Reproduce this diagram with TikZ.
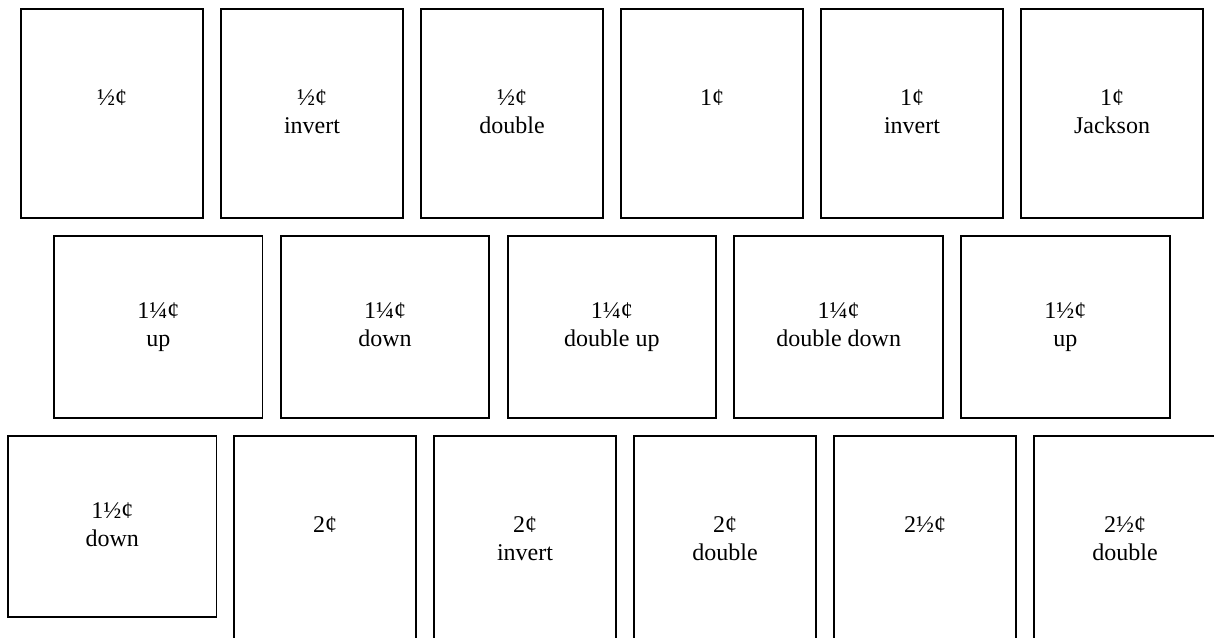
\documentclass[tikz,border=0pt]{standalone}
\usepackage{fontspec}
\setmainfont{Liberation Serif}
\usepackage{tikz}
\usetikzlibrary{positioning}
\tikzstyle{tallbox} = [rectangle, minimum width=136.5pt, minimum height=156.75pt, inner sep=0pt, outer sep=0pt, text centered, align=center, draw=black, line width=1.4pt, font=\fontsize{18pt}{21pt}\selectfont]
\tikzstyle{widebox} = [rectangle, minimum width=156.4pt, minimum height=136.5pt, inner sep=0pt, outer sep=0pt, text centered, align=center, draw=black, line width=1.4pt, font=\fontsize{18pt}{21pt}\selectfont]
\newcommand{\lbl}[2]{\strut#1\\\strut#2}

\begin{document}
\begin{tikzpicture}[x=0.75pt, y=-0.75pt, node distance=13.5pt]

\path[use as bounding box, clip] (0,0) rectangle (1214,638);

% top row
\node (half) [tallbox, anchor=north west] at (21,9) {\lbl{½¢}{}};
\node (halfinv) [tallbox, right=of half] {\lbl{½¢}{invert}};
\node (halfdbl) [tallbox, right=of halfinv] {\lbl{½¢}{double}};
\node (one) [tallbox, right=of halfdbl] {\lbl{1¢}{}};
\node (oneinv) [tallbox, right=of one] {\lbl{1¢}{invert}};
\node (jackson) [tallbox, right=of oneinv] {\lbl{1¢}{Jackson}};

% middle row
\node (qup) [widebox, anchor=north west] at (54,236) {\lbl{1¼¢}{up}};
\node (qdown) [widebox, right=13.7pt of qup] {\lbl{1¼¢}{down}};
\node (qdblup) [widebox, right=13.7pt of qdown] {\lbl{1¼¢}{double up}};
\node (qdbldown) [widebox, right=13.7pt of qdblup] {\lbl{1¼¢}{double down}};
\node (hup) [widebox, right=13.7pt of qdbldown] {\lbl{1½¢}{up}};

% bottom row
\node (hdown) [widebox, minimum height=135.75pt, anchor=north west] at (8,436) {\lbl{1½¢}{down}};
\node (two) [tallbox, anchor=north west] at (234,436) {\lbl{2¢}{}};
\node (twoinv) [tallbox, right=of two] {\lbl{2¢}{invert}};
\node (twodbl) [tallbox, right=of twoinv] {\lbl{2¢}{double}};
\node (twohalf) [tallbox, right=of twodbl] {\lbl{2½¢}{}};
\node (twohalfdbl) [tallbox, right=of twohalf] {\lbl{2½¢}{double}};

\end{tikzpicture}
\end{document}
